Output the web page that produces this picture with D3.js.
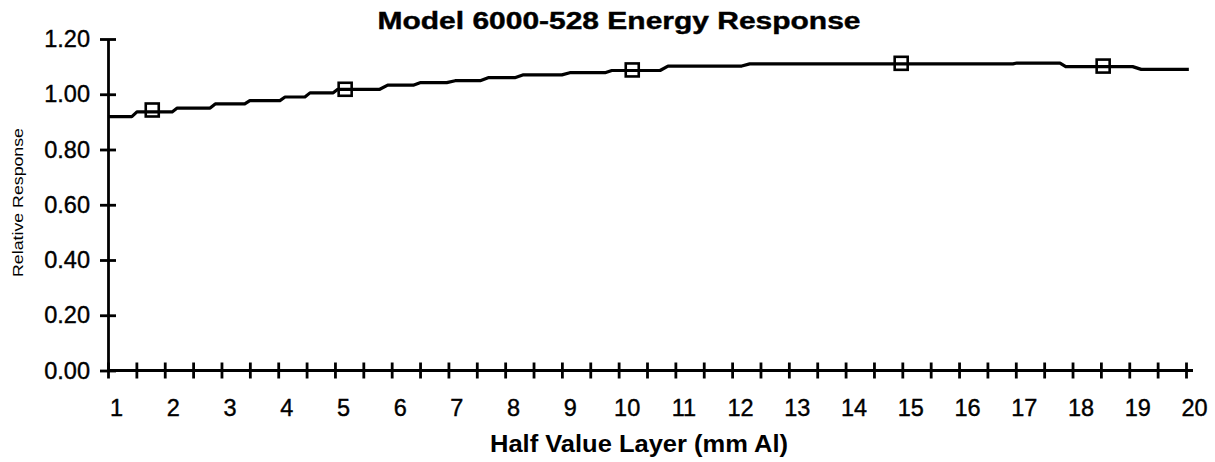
<!DOCTYPE html>
<html>
<head>
<meta charset="utf-8">
<script src="https://cdn.jsdelivr.net/npm/d3@7"></script>
<style>
    body { margin: 0; background: #fff; }
    svg text { font-family: "Liberation Sans", Arial, Helvetica, sans-serif; fill: #000; }
    .tick-label text { font-size: 23.5px; stroke: #000; stroke-width: 0.4px; }
</style>
</head>
<body>
<svg id="main-chart-svg" width="1215" height="462"></svg>
<script>
// axis tick labels
let xTickLabels = [1, 2, 3, 4, 5, 6, 7, 8, 9, 10, 11, 12, 13, 14, 15, 16, 17, 18, 19, 20];
let yTickLabels = [0.0, 0.2, 0.4, 0.6, 0.8, 1.0, 1.2];

// measured points (open squares)
let pointHvl = [1.78, 5.18, 10.24, 14.98, 18.54];
let pointResponse = [0.943, 1.018, 1.088, 1.112, 1.102];

let runStart = [1.00, 1.51, 2.22, 2.89, 3.50, 4.12, 4.56, 5.05, 5.93, 6.50, 7.12, 7.70, 8.31, 9.14, 9.88, 10.87, 12.31, 17.02, 17.88, 19.21];
let runEnd = [1.42, 2.13, 2.80, 3.41, 4.03, 4.47, 4.97, 5.79, 6.38, 6.97, 7.56, 8.17, 9.00, 9.76, 10.73, 12.17, 16.95, 17.78, 19.06, 20.05];
let runResponse = [0.919, 0.936, 0.950, 0.965, 0.977, 0.990, 1.005, 1.018, 1.033, 1.042, 1.049, 1.060, 1.070, 1.078, 1.086, 1.102, 1.110, 1.113, 1.100, 1.090];

let svg = d3.select("#main-chart-svg");

let xScale = d3.scaleLinear().domain([1, 20]).range([108, 1186]);
let yScale = d3.scaleLinear().domain([0, 1.2]).range([370.5, 39]);

// y axis, ticks crossing the line
let yAxis = d3.axisLeft(yScale)
    .tickValues(yTickLabels)
    .tickFormat(d3.format(".2f"))
    .tickSize(8)
    .tickSizeOuter(0)
    .tickPadding(10);
let gy = svg.append("g")
    .attr("id", "yAxis")
    .attr("class", "tick-label")
    .attr("transform", "translate(108,0)")
    .call(yAxis);
gy.selectAll(".tick line").attr("x1", 8);

// x axis: half-step minor ticks, then labelled integer ticks
let xMinor = xTickLabels.slice(0, -1).map(d => d + 0.5);
let gxMinor = svg.append("g")
    .attr("transform", "translate(0,370.5)")
    .call(d3.axisBottom(xScale).tickValues(xMinor).tickFormat("").tickSize(8).tickSizeOuter(0));
gxMinor.select(".domain").remove();
gxMinor.selectAll(".tick line").attr("y1", -8);

let gx = svg.append("g")
    .attr("id", "xAxis")
    .attr("class", "tick-label")
    .attr("transform", "translate(0,370.5)")
    .call(d3.axisBottom(xScale).tickValues(xTickLabels).tickSize(8).tickSizeOuter(0).tickPadding(21));
gx.selectAll(".tick line").attr("y1", -8);
gx.selectAll(".tick text").attr("dx", 8);
// the baseline runs a little past the last tick
gx.select(".domain").attr("d", `M${xScale.range()[0]},0H${xScale.range()[1] + 7}`);

svg.selectAll(".domain, .tick line").attr("stroke", "#000").attr("stroke-width", 2.8);

// curve
let curve = [];
runStart.forEach((s, i) => {
    curve.push([s, runResponse[i]]);
    curve.push([runEnd[i], runResponse[i]]);
});
let line = d3.line()
    .x(d => xScale(d[0]))
    .y(d => yScale(d[1]));
svg.append("path")
    .datum(curve)
    .attr("d", line)
    .attr("fill", "none")
    .attr("stroke", "#000")
    .attr("stroke-width", 3.2)
    .attr("stroke-linejoin", "round");

// markers
svg.selectAll("rect.point")
    .data(pointHvl)
    .join("rect")
    .attr("class", "point")
    .attr("x", d => xScale(d) - 6.5)
    .attr("y", (d, i) => yScale(pointResponse[i]) - 6.5)
    .attr("width", 13)
    .attr("height", 13)
    .attr("fill", "none")
    .attr("stroke", "#000")
    .attr("stroke-width", 2.6);

// titles
svg.append("text")
    .attr("x", 619).attr("y", 29)
    .attr("text-anchor", "middle")
    .attr("font-weight", "bold")
    .style("font-size", "23px")
    .style("stroke", "#000")
    .style("stroke-width", "0.4px")
    .attr("textLength", 483)
    .attr("lengthAdjust", "spacingAndGlyphs")
    .text("Model 6000-528 Energy Response");

svg.append("text")
    .attr("x", 639).attr("y", 451.5)
    .attr("text-anchor", "middle")
    .attr("font-weight", "bold")
    .style("font-size", "23.5px")
    .attr("textLength", 298)
    .attr("lengthAdjust", "spacingAndGlyphs")
    .text("Half Value Layer (mm Al)");

svg.append("text")
    .attr("transform", "translate(22.5,202.5) rotate(-90)")
    .attr("text-anchor", "middle")
    .style("font-size", "14px")
    .attr("textLength", 149)
    .attr("lengthAdjust", "spacingAndGlyphs")
    .text("Relative Response");
</script>
</body>
</html>
